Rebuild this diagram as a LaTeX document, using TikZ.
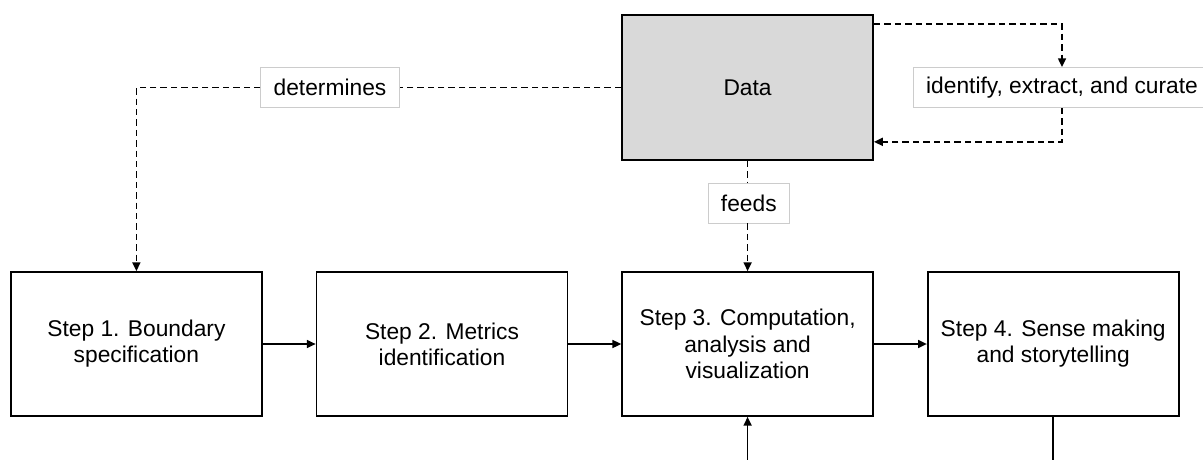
\documentclass[tikz,border=0pt]{standalone}
\usepackage{fontspec}
\setmainfont{Liberation Sans}
\usetikzlibrary{calc, arrows.meta}

\begin{document}
\begin{tikzpicture}[
		stepbox/.style={draw, line width=1.2pt, minimum width=6.275cm, minimum height=3.6cm, align=center, font=\fontsize{16.2}{18.6}\selectfont},
		tag/.style={draw=black!20, line width=0.6pt, fill=white, minimum height=1cm, inner xsep=0.32cm, font=\fontsize{16.2}{18.6}\selectfont},
		link/.style={line width=1.1pt, dash pattern=on 0.16cm off 0.1cm},
		flow/.style={line width=1.1pt},
		>={Triangle[length=0.22cm, width=0.2cm]}
	]
		\useasboundingbox (0,0) rectangle (30.075,11.475);
		
		\node [stepbox] (step1) at (3.41,2.875) {Step 1. Boundary\\specification};
		\node [stepbox] (step2) at (11.05,2.875) {Step 2. Metrics\\identification};
		\node [stepbox] (step3) at (18.69,2.875) {Step 3. Computation,\\analysis and\\visualization};
		\node [stepbox] (step4) at (26.33,2.875) {Step 4. Sense making\\and storytelling};
		
		\node [stepbox, fill=black!15, minimum height=3.625cm] (data) at (18.69,9.2875) {Data};
		
		\node [tag] (determines) at (8.25,9.2875) {determines};
		\node [tag] (curate) at (26.55,9.2875) {identify, extract, and curate};
		\node [tag] (feeds) at (18.72,6.4) {feeds};
		
		\draw [flow, ->] (step1) -- (step2);
		\draw [flow, ->] (step2) -- (step3);
		\draw [flow, ->] (step3) -- (step4);
		
		% feedback loop, runs off the page
		\draw [flow, ->] (step4.south) -- ++(0,-1.5) -| (step3.south);
		
		\draw [link] (data.west) -- (determines.east);
		\draw [link, ->] (determines.west) -| (step1.north);
		
		\draw [link] (data.south) -- (data.south |- feeds.north);
		\draw [link, ->] (data.south |- feeds.south) -- (step3.north);
		
		\draw [link, ->] ($(data.north east)+(0,-0.25)$) -| (curate.north);
		\draw [link, ->] (curate.south) |- ($(data.south east)+(0,0.475)$);
		
	\end{tikzpicture}
\end{document}
